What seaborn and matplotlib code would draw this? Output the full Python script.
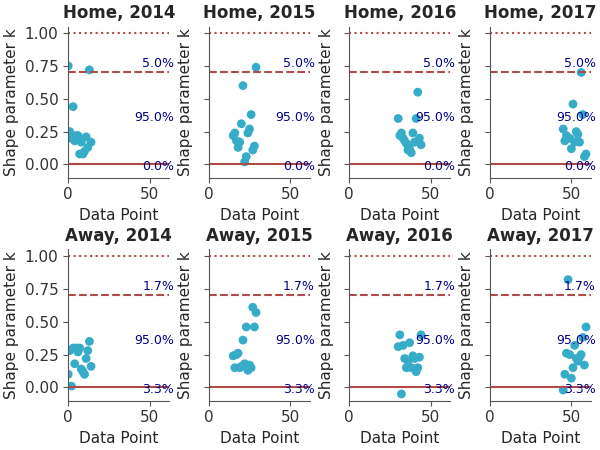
import matplotlib
matplotlib.use("Agg")
import matplotlib.pyplot as plt
import pandas as pd
import seaborn as sns

# DATA
years = [2014, 2015, 2016, 2017]
home_k = [
    [0.75, 0.25, 0.20, 0.44, 0.18, 0.22, 0.22, 0.08, 0.17, 0.08, 0.10, 0.21, 0.13, 0.72, 0.17],
    [0.22, 0.24, 0.18, 0.13, 0.17, 0.31, 0.60, 0.02, 0.06, 0.24, 0.27, 0.38, 0.11, 0.14, 0.74],
    [0.35, 0.22, 0.24, 0.20, 0.18, 0.16, 0.11, 0.12, 0.09, 0.24, 0.17, 0.35, 0.55, 0.20, 0.15],
    [0.27, 0.18, 0.22, 0.20, 0.20, 0.12, 0.46, 0.17, 0.25, 0.23, 0.17, 0.70, 0.38, 0.06, 0.08],
]
away_k = [
    [0.10, 0.28, 0.01, 0.30, 0.18, 0.30, 0.27, 0.30, 0.14, 0.12, 0.10, 0.22, 0.28, 0.35, 0.16],
    [0.24, 0.15, 0.25, 0.26, 0.15, 0.16, 0.36, 0.18, 0.46, 0.13, 0.17, 0.15, 0.61, 0.46, 0.57],
    [0.31, 0.40, -0.05, 0.32, 0.22, 0.15, 0.20, 0.34, 0.15, 0.24, 0.22, 0.12, 0.15, 0.23, 0.40],
    [-0.02, 0.10, 0.26, 0.82, 0.25, 0.07, 0.15, 0.32, 0.22, 0.20, 0.23, 0.25, 0.38, 0.17, 0.46],
]
home_pct = ["5.0%", "95.0%", "0.0%"]
away_pct = ["1.7%", "95.0%", "3.3%"]

sns.set_style("ticks")
plt.rcParams.update({"axes.edgecolor": "#555555", "xtick.color": "#555555",
                     "ytick.color": "#555555", "xtick.labelcolor": "#333333",
                     "ytick.labelcolor": "#333333"})
fig, axes = plt.subplots(2, 4, figsize=(6, 4.5), dpi=100)

for row, (side, data, pct) in enumerate([("Home", home_k, home_pct), ("Away", away_k, away_pct)]):
    for col, year in enumerate(years):
        ax = axes[row, col]
        df = pd.DataFrame({"x": range(col * 15, col * 15 + 15), "k": data[col]})
        sns.scatterplot(data=df, x="x", y="k", ax=ax, color="#36acc8", s=40, edgecolor="none")
        ax.axhline(1.0, color="#b04a48", ls=":", lw=1.5)
        ax.axhline(0.7, color="#b04a48", ls="--", lw=1.5)
        ax.axhline(0.0, color="#b04a48", ls="-", lw=1.5)
        ax.text(65, 0.74, pct[0], color="darkblue", ha="right", fontsize=9)
        ax.text(65, 0.33, pct[1], color="darkblue", ha="right", fontsize=9)
        ax.text(65, -0.04, pct[2], color="darkblue", ha="right", fontsize=9)
        ax.set_xlim(0, 62)
        ax.set_ylim(-0.1, 1.05)
        ax.set_xticks([0, 50])
        ax.set_yticks([0, 0.25, 0.5, 0.75, 1.0])
        ax.tick_params(labelsize=11)
        ax.set_title(f"{side}, {year}", fontweight="bold", fontsize=12)
        ax.set_xlabel("Data Point", fontsize=11)
        ax.set_ylabel("Shape parameter k", fontsize=11)
        if col > 0:
            ax.set_yticklabels([])
        sns.despine(ax=ax)

plt.tight_layout(pad=0.3, w_pad=0.3, h_pad=0.3)
plt.savefig("out.png")
